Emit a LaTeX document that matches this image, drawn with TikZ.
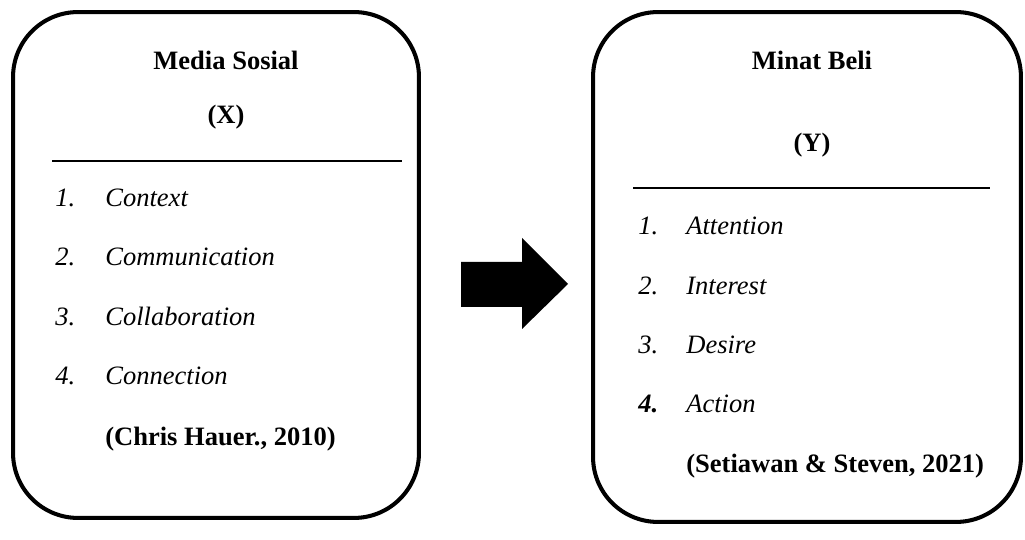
\documentclass[tikz,border=0pt]{standalone}
\usepackage{fontspec}
\setmainfont{Liberation Serif}
\usepackage{tikz}

\tikzset{
  varbox/.style={draw=black, line width=2.3pt, rectangle, rounded corners=1.3cm, inner sep=0pt},
  head/.style={font=\bfseries, anchor=base},
  item/.style={font=\itshape, anchor=base west, inner sep=0pt},
  cite/.style={font=\bfseries, anchor=base west, inner sep=0pt},
  sepline/.style={line width=0.9pt}
}

\begin{document}
\begin{tikzpicture}[x=0.02cm, y=-0.02cm]
\fontsize{15.1}{18}\selectfont
\useasboundingbox (0,0) rectangle (1025,540);

% kotak variabel X
\node[varbox, minimum width=8.12cm, minimum height=10.12cm] (boxx) at (216,265) {};
\node[head] (titlex) at (226,70) {Media Sosial};
\node[head] (varx) at (226,124) {(X)};
\draw[sepline] (52,161)--(402,161);
\node[item] (nx1) at (55,207) {1.};
\node[item] (ix1) at (105,207) {Context};
\node[item] (nx2) at (55,266) {2.};
\node[item] (ix2) at (105,266) {Communication};
\node[item] (nx3) at (55,326) {3.};
\node[item] (ix3) at (105,326) {Collaboration};
\node[item] (nx4) at (55,385) {4.};
\node[item] (ix4) at (105,385) {Connection};
\node[cite] (citex) at (105,446) {(Chris Hauer., 2010)};

% kotak variabel Y
\node[varbox, minimum width=8.56cm, minimum height=10.2cm] (boxy) at (807,267) {};
\node[head] (titley) at (812,70) {Minat Beli};
\node[head] (vary) at (812,152) {(Y)};
\draw[sepline] (633,188)--(990,188);
\node[item] (ny1) at (638,235) {1.};
\node[item] (iy1) at (686,235) {Attention};
\node[item] (ny2) at (638,295) {2.};
\node[item] (iy2) at (686,295) {Interest};
\node[item] (ny3) at (638,354) {3.};
\node[item] (iy3) at (686,354) {Desire};
\node[item, font=\bfseries\itshape] (ny4) at (638,413) {4.};
\node[item] (iy4) at (686,413) {Action};
\node[cite] (citey) at (686,473) {(Setiawan \& Steven, 2021)};

% panah
\fill[black] (461,262)--(522,262)--(522,238)--(568,284)--(522,329)--(522,307)--(461,307)--cycle;
\end{tikzpicture}
\end{document}
